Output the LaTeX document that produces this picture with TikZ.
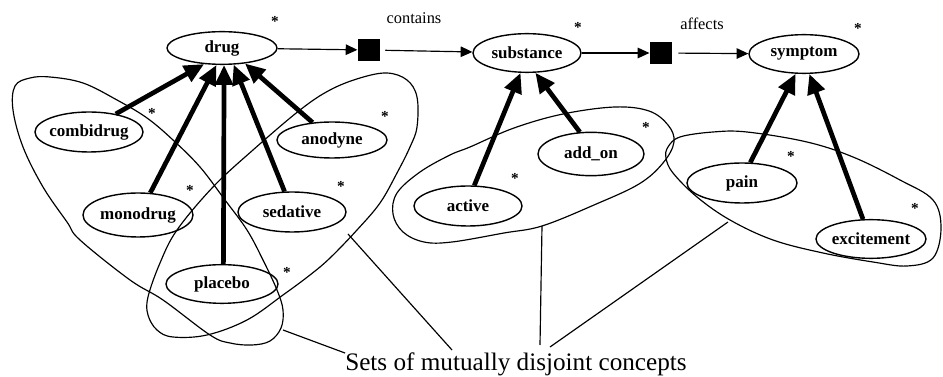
\documentclass[tikz,border=0pt]{standalone}
\usepackage{fontspec}
\setmainfont{Liberation Serif}
\usepackage{tikz}
\usetikzlibrary{shapes.geometric, arrows.meta}
\tikzstyle{concept} = [ellipse, draw=black, line width=1.2pt, minimum width=3.24cm, minimum height=1.16cm, inner xsep=-14pt, inner ysep=0pt, font=\bfseries\fontsize{14.5}{16}\selectfont]
\tikzstyle{relbox} = [rectangle, fill=black, minimum size=0.68cm, inner sep=0pt]
\tikzstyle{rellabel} = [font=\fontsize{14}{16}\selectfont, inner sep=0pt]
\tikzstyle{card} = [font=\bfseries\fontsize{13}{14}\selectfont, inner sep=0pt]
\tikzstyle{isa} = [line width=4pt, -{Triangle[length=17pt,width=15pt]}]
\tikzstyle{arrow} = [line width=1pt, -{Triangle[length=10pt,width=9pt]}]
\tikzstyle{set} = [line width=1pt]
\tikzstyle{pointer} = [line width=1pt]

\begin{document}
\begin{tikzpicture}[x=0.03cm, y=-0.03cm]
        \useasboundingbox (0,0) rectangle (943,377);

        % top row
        \node (drug) [concept, minimum width=3.3cm, minimum height=0.98cm] at (222,48) {drug};
        \node (contains) [relbox] at (369,50) {};
        \node (substance) [concept] at (527,53) {substance};
        \node (affects) [relbox] at (661,53) {};
        \node (symptom) [concept, minimum width=3.3cm] at (804,54) {symptom};
        \node (containslabel) [rellabel] at (414,18) {contains};
        \node (affectslabel) [rellabel] at (702,24) {affects};

        % subconcepts
        \node (combidrug) [concept, minimum height=1.2cm] at (89,132) {combidrug};
        \node (anodyne) [concept, minimum width=3.3cm, minimum height=1.08cm] at (332,140) {anodyne};
        \node (monodrug) [concept, minimum width=3.3cm, minimum height=1.32cm] at (138,215) {monodrug};
        \node (sedative) [concept, minimum height=1.2cm] at (292,212) {sedative};
        \node (placebo) [concept, minimum width=3.36cm] at (222,284) {placebo};
        \node (active) [concept, minimum height=1.2cm] at (468,206) {active};
        \node (addon) [concept, minimum width=3.18cm, minimum height=1.3cm] at (591,154) {add\_on};
        \node (pain) [concept, minimum width=3.3cm, minimum height=1.2cm] at (742,183) {pain};
        \node (excitement) [concept, minimum width=3.3cm] at (871,239) {excitement};

        % cardinalities
        \node (cdrug) [card] at (275,21) {*};
        \node (ccombi) [card] at (152,113) {*};
        \node (canodyne) [card] at (385,116) {*};
        \node (csedative) [card] at (341,186) {*};
        \node (cmono) [card] at (190,190) {*};
        \node (cplacebo) [card] at (287,272) {*};
        \node (csubstance) [card] at (578,27) {*};
        \node (caddon) [card] at (646,127) {*};
        \node (cactive) [card] at (515,178) {*};
        \node (csymptom) [card] at (858,28) {*};
        \node (cpain) [card] at (791,156) {*};
        \node (cexcite) [card] at (915,208) {*};

        % relations
        \draw [arrow] (drug) -- (contains);
        \draw [arrow, shorten <=4pt] (contains) -- (substance);
        \draw [arrow] (substance) -- (affects);
        \draw [arrow, shorten <=5pt] (affects) -- (symptom);

        % is-a links
        \draw [isa] (combidrug.34) -- (drug.222);
        \draw [isa] (monodrug.61) -- (drug.252);
        \draw [isa] (placebo.86) -- (drug.277);
        \draw [isa] (sedative.110) -- (drug.305);
        \draw [isa] (anodyne.138) -- (drug.326);
        \draw [isa] (active.73) -- (substance.252);
        \draw [isa] (addon.117) -- (substance.293);
        \draw [isa] (pain.68) -- (symptom.247);
        \draw [isa] (excitement.112) -- (symptom.285);

        % disjoint sets
        \draw [set] plot [smooth cycle, tension=0.6] coordinates {(15,86) (30,78) (50,77) (83,83) (117,100) (147,118) (173,140) (200,167) (225,200) (247,230) (263,260) (277,290) (283,310) (281,328) (270,341) (252,345) (230,343) (210,335) (163,300) (130,280) (80,240) (67,222) (43,187) (23,147) (13,110)};
        \draw [set] plot [smooth cycle, tension=0.6] coordinates {(177,230) (213,187) (253,150) (300,110) (330,90) (360,78) (387,73) (407,80) (417,97) (417,127) (410,147) (397,173) (380,203) (357,230) (330,258) (310,275) (283,295) (247,320) (207,335) (173,337) (157,330) (148,315) (148,297) (160,263)};
        \draw [set] plot [smooth cycle, tension=0.6] coordinates {(397,193) (420,172) (450,155) (470,147) (514,128) (563,114) (615,107) (649,111) (668,125) (674,142) (663,163) (639,184) (594,205) (542,226) (504,233) (452,242) (424,242) (403,232) (393,214)};
        \draw [set] plot [smooth cycle, tension=0.6] coordinates {(668,147) (680,137) (713,132) (747,132) (807,142) (853,157) (900,180) (933,200) (941,228) (933,258) (907,266) (873,262) (823,253) (773,240) (730,220) (697,197) (673,173) (666,158)};

        % caption with pointers
        \node (caption) [anchor=base, font=\fontsize{21.5}{24}\selectfont, inner sep=0pt] at (516,371) {Sets of mutually disjoint concepts};
        \coordinate (set1) at (283,330);
        \coordinate (set2) at (348,234);
        \coordinate (set3) at (542,226);
        \coordinate (set4) at (728,222);
        \coordinate (end2) at (452,350);
        \coordinate (end3) at (540,345);
        \coordinate (end4) at (550,347);
        \draw [pointer] (set1) -- (caption.north west);
        \draw [pointer] (set2) -- (end2);
        \draw [pointer] (set3) -- (end3);
        \draw [pointer] (set4) -- (end4);

\end{tikzpicture}
\end{document}
